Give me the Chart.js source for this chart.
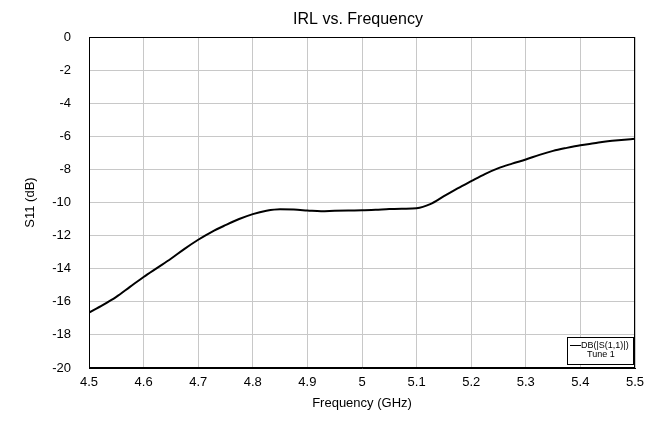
<!DOCTYPE html>
<html lang="en">
<head>
  <meta charset="UTF-8">
  <title>IRL vs. Frequency</title>
  <script src="https://cdn.jsdelivr.net/npm/chart.js"></script>
  <style>
    html, body {
      margin: 0;
      padding: 0;
      background-color: white;
    }
    #wrap {
      width: 655px;
      height: 432px;
    }
  </style>
</head>
<body>
<div id="wrap">
  <canvas id="irlChart" width="655" height="432"></canvas>
</div>
<script>
  // frequency points (GHz) and S11 values (dB)
  const freq = [4.5, 4.525, 4.55, 4.575, 4.6, 4.625, 4.65, 4.675, 4.7, 4.725,
                4.75, 4.775, 4.8, 4.825, 4.85, 4.875, 4.9, 4.925, 4.95, 4.975,
                5.0, 5.025, 5.05, 5.075, 5.1, 5.125, 5.15, 5.175, 5.2, 5.225,
                5.25, 5.275, 5.3, 5.325, 5.35, 5.375, 5.4, 5.425, 5.45, 5.475, 5.5];
  const s11 = [-16.65, -16.2, -15.7, -15.1, -14.5, -13.95, -13.4, -12.8, -12.25, -11.77,
               -11.37, -11.0, -10.7, -10.5, -10.41, -10.43, -10.48, -10.53, -10.5, -10.48,
               -10.47, -10.44, -10.4, -10.38, -10.35, -10.1, -9.62, -9.15, -8.71, -8.28,
               -7.92, -7.65, -7.4, -7.12, -6.88, -6.7, -6.54, -6.42, -6.3, -6.22, -6.15];
  const legendLines = ['DB(|S(1,1)|)', 'Tune 1'];
  const chartTitle = 'IRL vs. Frequency';

  const fontFam = "Arial, 'Liberation Sans', sans-serif";

  // title over the plot, black frame round the plot, the little legend box in the corner
  const frameAndLegend = {
    id: 'frameAndLegend',
    afterDatasetsDraw(chart) {
      const ctx = chart.ctx;
      const a = chart.chartArea;
      ctx.save();
      ctx.fillStyle = '#000';
      ctx.font = '16px ' + fontFam;
      ctx.textAlign = 'center';
      ctx.textBaseline = 'middle';
      ctx.fillText(chartTitle, (a.left + a.right) / 2 - 4, 20);

      ctx.strokeStyle = '#000';
      ctx.lineWidth = 1;
      ctx.strokeRect(a.left + 0.5, a.top + 0.5, a.right - a.left - 1, a.bottom - a.top - 1);

      const bx = a.right - 68, by = a.bottom - 31, bw = 66, bh = 27;
      ctx.fillStyle = '#fff';
      ctx.fillRect(bx, by, bw, bh);
      ctx.strokeRect(bx + 0.5, by + 0.5, bw, bh);
      ctx.beginPath();
      ctx.moveTo(bx + 3, by + 8.5);
      ctx.lineTo(bx + 14, by + 8.5);
      ctx.stroke();
      ctx.fillStyle = '#000';
      ctx.font = '9px ' + fontFam;
      ctx.textAlign = 'left';
      ctx.fillText(legendLines[0], bx + 14, by + 8.5);
      ctx.fillText(legendLines[1], bx + 20, by + 18);
      ctx.restore();
    }
  };

  const ctx = document.getElementById('irlChart').getContext('2d');
  new Chart(ctx, {
    type: 'line',
    data: {
      datasets: [{
        label: legendLines.join(' '),
        data: freq.map((f, i) => ({x: f, y: s11[i]})),
        borderColor: '#000',
        borderWidth: 2,
        pointRadius: 0,
        cubicInterpolationMode: 'monotone',
        fill: false
      }]
    },
    options: {
      responsive: false,
      animation: false,
      layout: {
        padding: {left: 0, right: 20, top: 37, bottom: 0}
      },
      plugins: {
        legend: {display: false},
        tooltip: {enabled: false},
        title: {display: false}
      },
      scales: {
        x: {
          type: 'linear',
          min: 4.5,
          max: 5.5,
          afterFit(scale) { scale.height = 64; },
          ticks: {
            stepSize: 0.1,
            color: '#000',
            padding: 7,
            maxRotation: 0,
            font: {family: fontFam, size: 13},
            callback: v => String(Math.round(v * 10) / 10)
          },
          grid: {color: '#c8c8c8', lineWidth: 1, drawTicks: false},
          border: {color: '#000'},
          title: {
            display: true,
            text: 'Frequency (GHz)',
            color: '#000',
            font: {family: fontFam, size: 13},
            padding: {top: 0, bottom: 21}
          }
        },
        y: {
          min: -20,
          max: 0,
          afterFit(scale) { scale.width = 89; },
          ticks: {
            stepSize: 2,
            color: '#000',
            padding: 18,
            font: {family: fontFam, size: 13}
          },
          grid: {color: '#c8c8c8', lineWidth: 1, drawTicks: false},
          border: {color: '#000'},
          title: {
            display: true,
            text: 'S11 (dB)',
            color: '#000',
            font: {family: fontFam, size: 13},
            padding: {top: 23, bottom: 0}
          }
        }
      }
    },
    plugins: [frameAndLegend]
  });
</script>
</body>
</html>
